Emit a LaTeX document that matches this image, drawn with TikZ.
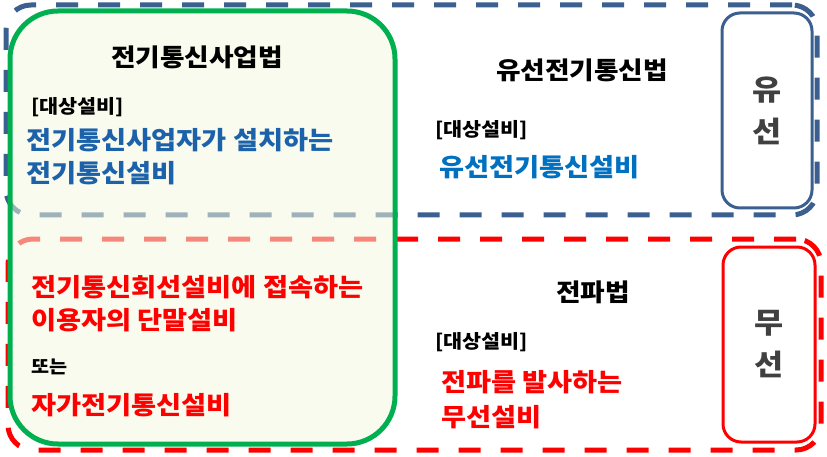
\documentclass[tikz,border=0pt]{standalone}
\usepackage{fontspec}
\setmainfont{Noto Sans CJK KR}[FakeStretch=1.09]
\definecolor{wiredblue}{HTML}{3B5F8F}
\definecolor{radiored}{HTML}{FF0000}
\definecolor{bizgreen}{HTML}{00B050}
\definecolor{bizfill}{HTML}{F2F7DF}
\definecolor{textblue}{HTML}{1C62AA}
\definecolor{lightblue}{HTML}{0070C0}
\definecolor{sidegray}{HTML}{404040}

\begin{document}
\begin{tikzpicture}[x=1pt, y=-1pt,
  zone/.style={draw, line width=5pt, rounded corners=25pt, dash pattern=on 22pt off 20pt, inner sep=0pt},
  sidebox/.style={draw, fill=white, line width=3pt, rounded corners=18pt, minimum width=90pt, minimum height=195pt, align=center, text=sidegray, font=\bfseries\fontsize{29}{42}\selectfont},
  law/.style={inner sep=0pt, font=\bfseries\fontsize{24.5}{30}\selectfont},
  target/.style={anchor=west, inner sep=0pt, font=\bfseries\fontsize{19}{24}\selectfont},
  facility/.style={anchor=west, align=left, inner sep=0pt, font=\bfseries\fontsize{25}{33}\selectfont}]
\useasboundingbox (0,0) rectangle (827,457);

% zones
\node[zone, draw=wiredblue, minimum width=811pt, minimum height=210pt] (wired) at (411.5,110) {};
\node[zone, draw=radiored, minimum width=813pt, minimum height=211pt] (radio) at (414.5,344.5) {};
\node[draw=bizgreen, line width=5pt, fill=bizfill, fill opacity=0.55, rounded corners=48pt, minimum width=385pt, minimum height=433pt] (business) at (202.5,227.5) {};

% side tags
\node[sidebox, draw=wiredblue] (wiredtag) at (767,110.5) {유\\선};
\node[sidebox, draw=radiored, minimum width=92pt] (radiotag) at (769,344.5) {무\\선};

% texts
\node[law] (businesslaw) at (197,57) {전기통신사업법};
\node[target] (businesstarget) at (31,107) {[대상설비]};
\node[facility, text=textblue] (businessfac) at (26,156.5) {전기통신사업자가 설치하는\\전기통신설비};
\node[law] (wiredlaw) at (582,70) {유선전기통신법};
\node[target] (wiredtarget) at (435,130) {[대상설비]};
\node[facility, text=lightblue] (wiredfac) at (439,167) {유선전기통신설비};
\node[facility, text=radiored] (terminal) at (31,303.5) {전기통신회선설비에 접속하는\\이용자의 단말설비};
\node[target, font=\bfseries\fontsize{18}{22}\selectfont] (either) at (31,367) {또는};
\node[facility, text=radiored] (private) at (31,405) {자가전기통신설비};
\node[law] (radiolaw) at (593,292) {전파법};
\node[target] (radiotarget) at (435,342) {[대상설비]};
\node[facility, text=radiored, font=\bfseries\fontsize{25}{35}\selectfont] (radiofac) at (441,399.5) {전파를 발사하는\\무선설비};
\end{tikzpicture}
\end{document}
